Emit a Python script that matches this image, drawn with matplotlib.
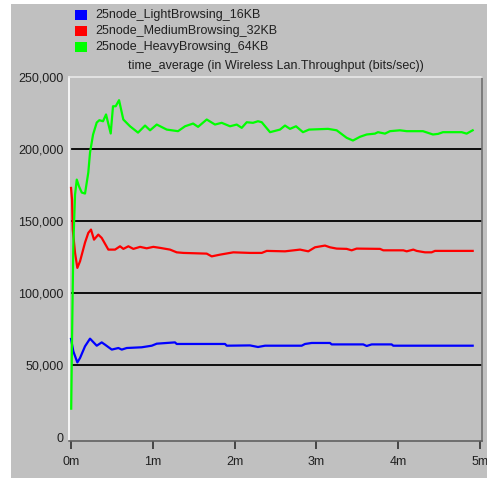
import matplotlib
matplotlib.use("Agg")
import matplotlib.pyplot as plt
from matplotlib.patches import Rectangle
from matplotlib.ticker import FuncFormatter


# time in minutes, throughput in bits/sec
light_t = [0.0, 0.028, 0.077, 0.11, 0.171, 0.232, 0.314, 0.375, 0.416, 0.498,
           0.579, 0.62, 0.681, 0.864, 0.987, 1.048, 1.17, 1.271, 1.292, 1.883,
           1.904, 2.188, 2.286, 2.372, 2.82, 2.861, 2.943, 3.166, 3.187, 3.573,
           3.615, 3.676, 3.92, 3.94, 4.911]
light_v = [68200, 59600, 51900, 55000, 63100, 68400, 63500, 65800, 64200, 60800,
           61900, 60800, 61900, 62400, 63500, 64900, 65400, 65800, 64700, 64700,
           63500, 63700, 62600, 63500, 63500, 64700, 65400, 65400, 64400, 64400,
           63300, 64400, 64400, 63500, 63500]

medium_t = [0.0, 0.012, 0.021, 0.049, 0.077, 0.11, 0.171, 0.211, 0.244, 0.281,
            0.333, 0.375, 0.456, 0.538, 0.599, 0.64, 0.701, 0.762, 0.844, 0.925,
            1.006, 1.088, 1.21, 1.292, 1.373, 1.659, 1.72, 1.822, 1.984, 2.188,
            2.332, 2.393, 2.616, 2.8, 2.901, 2.983, 3.105, 3.166, 3.248, 3.37,
            3.431, 3.492, 3.778, 3.818, 4.063, 4.104, 4.185, 4.226, 4.328, 4.409,
            4.45, 4.911]
medium_v = [173000, 164900, 144100, 127900, 117500, 122100, 135100, 141800, 144100, 137100,
            140600, 138300, 130200, 130200, 132500, 130700, 132500, 130700, 132100, 131100,
            132100, 131400, 130200, 128300, 127900, 127400, 125500, 126700, 128300, 127900,
            127900, 129300, 129000, 130200, 129000, 131800, 133000, 131800, 130900, 130700,
            129700, 130900, 130700, 129700, 129700, 129000, 130200, 129300, 128300, 128300,
            129300, 129300]

heavy_t = [0.002, 0.012, 0.028, 0.049, 0.07, 0.098, 0.131, 0.171, 0.211, 0.232,
           0.269, 0.314, 0.346, 0.391, 0.428, 0.452, 0.485, 0.513, 0.546, 0.587,
           0.639, 0.721, 0.819, 0.905, 0.966, 1.048, 1.17, 1.308, 1.394, 1.492,
           1.553, 1.659, 1.76, 1.842, 1.944, 2.026, 2.087, 2.148, 2.225, 2.286,
           2.332, 2.433, 2.555, 2.616, 2.677, 2.751, 2.836, 2.91, 3.142, 3.248,
           3.37, 3.447, 3.533, 3.615, 3.716, 3.753, 3.839, 3.9, 4.022, 4.104,
           4.303, 4.425, 4.487, 4.548, 4.776, 4.837, 4.911]
heavy_v = [19800, 67700, 133700, 168400, 178800, 174000, 169800, 169100, 183700, 197500,
           210000, 218400, 220000, 219300, 224000, 218400, 210800, 229700, 229700, 233900,
           220500, 215800, 211400, 216300, 213000, 217000, 213500, 212400, 215800, 217700,
           215400, 220500, 217000, 218200, 215800, 217000, 214700, 218600, 218200, 219300,
           218600, 211700, 213500, 216300, 214000, 215800, 211700, 213500, 214000, 213000,
           207800, 205900, 208500, 210100, 210700, 211700, 210700, 212400, 213000, 212400,
           212400, 210100, 210500, 211700, 211700, 210700, 213000]

series_names = ["25node_LightBrowsing_16KB", "25node_MediumBrowsing_32KB",
                "25node_HeavyBrowsing_64KB"]
series_colors = ["#0000ff", "#ff0000", "#00ff00"]
title = "time_average (in Wireless Lan.Throughput (bits/sec))"
y_grid = [50000, 100000, 150000, 200000]
y_ticks = [0, 50000, 100000, 150000, 200000, 250000]
x_ticks = [0, 1, 2, 3, 4, 5]

plt.rcParams["font.family"] = ["Liberation Sans", "DejaVu Sans"]
GRAY = "#c0c0c0"

fig = plt.figure(figsize=(4.87, 4.8), dpi=100, facecolor="white")
W, H = 487.0, 480.0
# grey window background behind everything
fig.patches.append(Rectangle((11 / W, 2 / H), 1 - 11 / W, 1 - 6 / H,
                             transform=fig.transFigure, facecolor=GRAY,
                             edgecolor="none", zorder=-10))

ax = fig.add_axes([69 / W, 1 - 440.5 / H, (482 - 69) / W, (440.5 - 77) / H])
ax.set_facecolor(GRAY)

for yv in y_grid:
    ax.axhline(yv, xmin=0.007, color="black", lw=1.3, zorder=1)

data = [(light_t, light_v), (medium_t, medium_v), (heavy_t, heavy_v)]
for (t, v), c in zip(data, series_colors):
    ax.plot(t, v, color=c, lw=1.6, zorder=3)

ax.set_xlim(-0.025, 5.025)
ax.set_ylim(-2300, 250000)
ax.set_yticks(y_ticks)
ax.yaxis.set_major_formatter(FuncFormatter(lambda v, p: f"{int(v):,}"))
ax.set_xticks(x_ticks)
ax.xaxis.set_major_formatter(FuncFormatter(lambda v, p: f"{int(v)}m"))
ax.tick_params(axis="y", length=0, pad=4, labelsize=9, labelcolor="#202020")
ax.tick_params(axis="x", direction="out", length=6, width=1.2, color="#303030",
               pad=5, labelsize=9, labelcolor="#202020")

ax.spines["left"].set_color("white")
ax.spines["top"].set_color("#e8e8e8")
ax.spines["right"].set_color("#707070")
ax.spines["bottom"].set_color("#606060")
for s in ax.spines.values():
    s.set_linewidth(1.2)

legend_y = [15, 31, 47]
for name, c, yy in zip(series_names, series_colors, legend_y):
    fig.patches.append(Rectangle((75 / W, 1 - (yy + 4.5) / H), 12 / W, 9 / H,
                                 transform=fig.transFigure, facecolor=c,
                                 edgecolor="none", zorder=2))
    fig.text(95 / W, 1 - yy / H, name, fontsize=9, va="center", ha="left",
             color="#202020")

fig.text(275.5 / W, 1 - 66 / H, title, fontsize=9, va="center", ha="center",
         color="#202020")

fig.savefig("out.png", dpi=100, facecolor=fig.get_facecolor())
